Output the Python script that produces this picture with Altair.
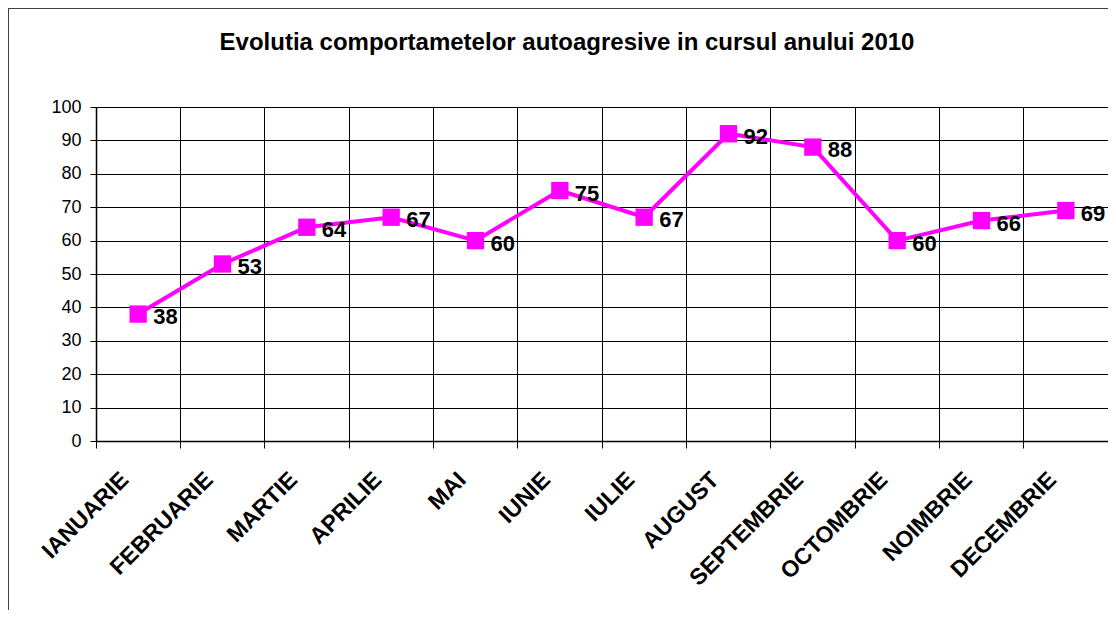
import altair as alt
import pandas as pd

months = ["IANUARIE", "FEBRUARIE", "MARTIE", "APRILIE", "MAI", "IUNIE", "IULIE",
          "AUGUST", "SEPTEMBRIE", "OCTOMBRIE", "NOIMBRIE", "DECEMBRIE"]
values = [38, 53, 64, 67, 60, 75, 67, 92, 88, 60, 66, 69]
y_ticks = [0, 10, 20, 30, 40, 50, 60, 70, 80, 90, 100]
title_text = "Evolutia comportametelor autoagresive in cursul anului 2010"

df = pd.DataFrame({"luna": months, "valoare": values})

W = 1012
H = 334
FONT = "Liberation Sans"

x_enc = alt.X(
    "luna:N", sort=months, title=None,
    scale=alt.Scale(type="band", paddingInner=0, paddingOuter=0),
    axis=alt.Axis(
        bandPosition=0, grid=True, gridColor="#000000", gridWidth=1,
        domainColor="#000000", domainWidth=1.5,
        ticks=True, tickColor="#000000", tickSize=7,
        labelAngle=-45, labelAlign="right", labelBaseline="top",
        labelOffset=-21, labelPadding=20,
        labelFont=FONT, labelFontSize=23, labelFontWeight="bold",
        labelColor="#000000",
    ),
)
y_enc = alt.Y(
    "valoare:Q", title=None,
    scale=alt.Scale(domain=[0, 100], nice=False),
    axis=alt.Axis(
        values=y_ticks, grid=True, gridColor="#000000", gridWidth=1,
        domainColor="#000000", domainWidth=1.5,
        tickColor="#000000", tickSize=6, labelPadding=9,
        labelFont=FONT, labelFontSize=18, labelColor="#000000",
    ),
)

base = alt.Chart(df).encode(x=x_enc, y=y_enc)

line = base.mark_line(color="#FF00FF", strokeWidth=4)
pts = base.mark_square(color="#FF00FF", size=300, filled=True, opacity=1)
labels = base.mark_text(
    align="left", baseline="middle", dx=15, dy=3,
    font=FONT, fontSize=22, fontWeight="bold", color="#000000",
).encode(text="valoare:Q")

frame = alt.Chart(df).mark_rect(
    fill=None, stroke="#404040", strokeWidth=2
).encode(
    x=alt.value(-88), y=alt.value(-99),
    x2=alt.value(W + 200), y2=alt.value(H + 400),
)

chart = alt.layer(frame, line, pts, labels).properties(
    width=W, height=H,
    title=alt.TitleParams(
        title_text, font=FONT, fontSize=24, fontWeight="bold", color="#000000",
        anchor="middle", frame="group", dx=-35, offset=-48,
    ),
    autosize=alt.AutoSizeParams(type="none"),
    padding={"left": 88, "top": 99, "right": 0, "bottom": 169},
).configure_view(
    fill="#C0C0C0", stroke="#808080", strokeWidth=1.5
).configure(background="#FFFFFF")

chart.save("out.html", embed_options={"renderer": "svg", "actions": False})
